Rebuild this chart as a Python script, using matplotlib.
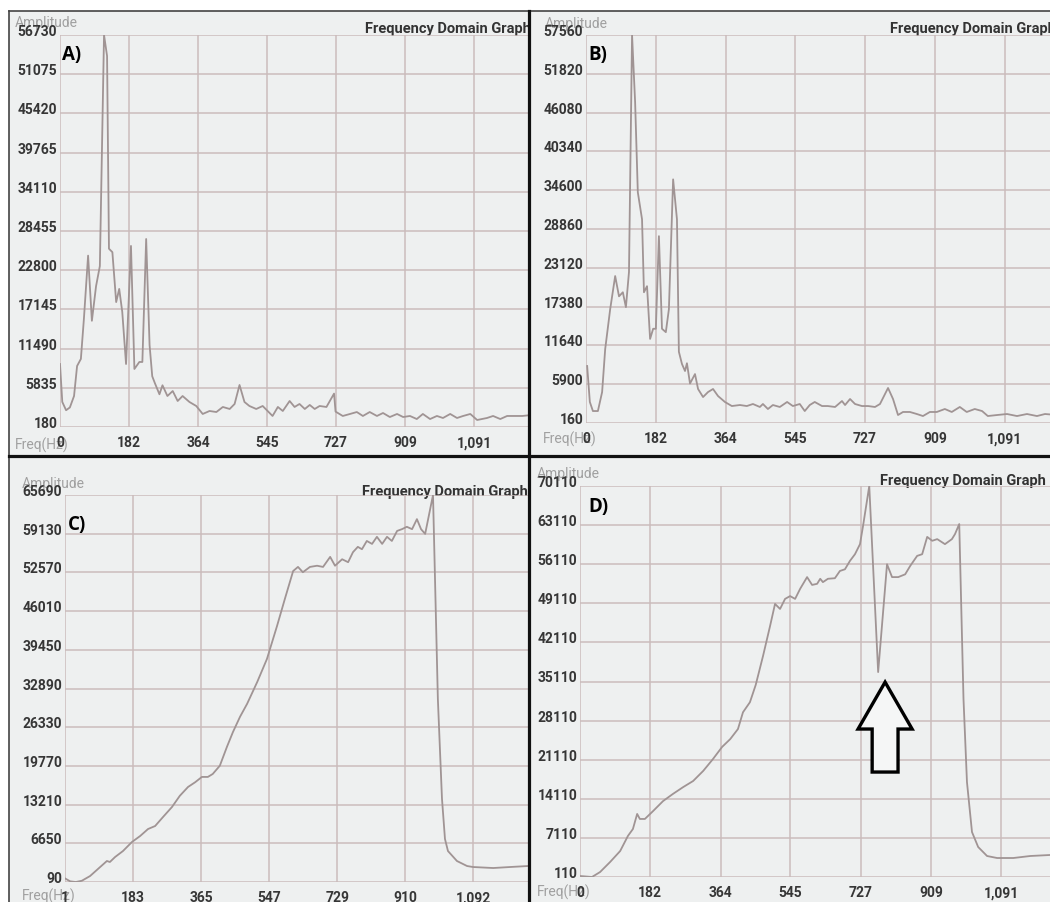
import matplotlib
matplotlib.use("Agg")
import matplotlib.pyplot as plt
from matplotlib.patches import FancyArrow
from matplotlib.lines import Line2D

# spectra read from the four screens (frequency in Hz, amplitude)
freq_a = [0, 6, 16, 26, 37, 45, 55, 63, 74, 84, 95, 105, 116, 124, 129, 138, 148, 156,
          164, 174, 187, 196, 209, 217, 227, 236, 243, 250, 262, 270, 283, 297, 310, 323,
          341, 359, 376, 394, 412, 429, 447, 460, 473, 486, 499, 517, 534, 547, 560, 574,
          587, 605, 618, 631, 645, 658, 671, 684, 702, 722, 726, 745, 764, 782, 798, 816,
          835, 851, 869, 888, 904, 922, 940, 956, 975, 993, 1009, 1028, 1046, 1062, 1081,
          1099, 1125, 1141, 1160, 1178, 1199, 1218, 1240]
amp_a = [9270, 3800, 2600, 3000, 4650, 8980, 10000, 15800, 24900, 15500, 20500, 23400,
         56730, 53700, 25900, 25400, 18200, 20100, 16800, 9270, 26300, 8550, 9560, 9560,
         27300, 12000, 7500, 6500, 4900, 6200, 4650, 5370, 3930, 4650, 3790, 3210, 2060,
         2490, 2340, 3070, 2780, 3500, 6240, 3790, 3210, 2780, 3210, 2490, 1770, 3070, 2490,
         3930, 3070, 3500, 2780, 3360, 2780, 3210, 3070, 5000, 2400, 1770, 2060, 2340, 1770,
         2340, 1770, 2200, 1620, 2060, 1620, 1770, 1330, 2060, 1330, 1770, 1480, 2060, 1480,
         1770, 2060, 1190, 1480, 1770, 1330, 1770, 1770, 1770, 1900]

freq_b = [3, 10, 18, 31, 42, 50, 63, 76, 86, 96, 104, 112, 120, 128, 135, 146, 151, 159,
          167, 175, 182, 190, 198, 208, 216, 227, 237, 242, 250, 258, 263, 271, 284, 292,
          305, 318, 331, 344, 362, 380, 401, 419, 435, 453, 461, 474, 487, 505, 524, 539,
          557, 570, 583, 596, 615, 630, 649, 667, 675, 688, 701, 719, 735, 753, 766, 787,
          800, 813, 826, 844, 862, 878, 896, 914, 935, 953, 974, 992, 1013, 1032, 1047,
          1071, 1097, 1123, 1149, 1175, 1196, 1215]
amp_b = [8590, 3270, 1930, 1930, 4740, 11100, 17000, 21900, 18900, 19500, 17300, 22500,
         57560, 47600, 34300, 30300, 19500, 20400, 12600, 14100, 14100, 27800, 14100, 13600,
         17000, 36200, 30300, 10700, 8900, 7850, 9000, 6000, 7400, 5190, 4000, 4740, 5190,
         4150, 3270, 2670, 2820, 2670, 2970, 2530, 2970, 2230, 2820, 2530, 3270, 2670, 2970,
         1930, 2820, 3270, 2670, 2670, 2530, 3410, 2820, 3710, 2970, 2670, 2670, 2530, 2970,
         5340, 3710, 1340, 1790, 1790, 1490, 1190, 1790, 1790, 2230, 1790, 2530, 1790, 2230,
         1930, 1190, 1340, 1490, 1190, 1490, 1190, 1490, 1400]

freq_c = [1, 15, 30, 46, 68, 95, 113, 121, 135, 156, 180, 202, 223, 242, 263, 287, 308,
          330, 349, 367, 383, 396, 415, 434, 450, 469, 488, 515, 541, 568, 589, 611, 624,
          637, 656, 675, 691, 710, 723, 742, 758, 771, 784, 795, 808, 822, 835, 849, 862,
          875, 889, 902, 915, 929, 942, 953, 964, 972, 985, 998, 1009, 1017, 1025, 1049,
          1076, 1092, 1146, 1191, 1239]
amp_c = [700, 200, 90, 300, 1100, 2630, 3650, 3480, 4330, 5340, 6870, 7890, 9070, 9580,
         11100, 12800, 14700, 16200, 17000, 17900, 17900, 18400, 19800, 23000, 25500, 28100,
         30300, 34000, 37900, 43500, 48100, 52800, 53500, 52600, 53500, 53700, 53500, 55200,
         53700, 54800, 54300, 56000, 56900, 56500, 57900, 57400, 58600, 57400, 58600, 57900,
         59600, 59900, 60300, 59900, 61600, 59900, 59100, 61600, 65690, 31100, 14200, 7380,
         5340, 3650, 2800, 2630, 2460, 2630, 2800]

freq_d = [0, 31, 52, 78, 104, 124, 137, 148, 155, 168, 189, 215, 241, 267, 293, 319, 344,
          368, 389, 409, 422, 440, 455, 474, 492, 505, 518, 531, 544, 557, 570, 588, 601,
          614, 622, 629, 642, 660, 673, 686, 699, 712, 725, 733, 749, 772, 795, 808, 824,
          842, 855, 873, 886, 899, 912, 925, 945, 963, 971, 982, 993, 1002, 1015, 1031,
          1054, 1080, 1122, 1166, 1217]
amp_d = [290, 110, 1000, 2800, 4760, 7450, 8700, 11400, 10500, 10500, 11900, 13700, 15000,
         16200, 17300, 19100, 21200, 23400, 24800, 26600, 29600, 31400, 34500, 39700, 45000,
         49000, 48100, 49900, 50400, 49900, 51700, 53800, 52400, 52600, 53500, 52900, 53500,
         53600, 54900, 55200, 56700, 57900, 59700, 63000, 70110, 36800, 56100, 53800, 53800,
         54300, 55800, 57600, 57900, 61000, 60300, 60600, 59700, 60600, 61500, 63300, 32000,
         17100, 8160, 5480, 3870, 3510, 3510, 3870, 4050]

yticks_a = [180, 5835, 11490, 17145, 22800, 28455, 34110, 39765, 45420, 51075, 56730]
yticks_b = [160, 5900, 11640, 17380, 23120, 28860, 34600, 40340, 46080, 51820, 57560]
yticks_c = [90, 6650, 13210, 19770, 26330, 32890, 39450, 46010, 52570, 59130, 65690]
yticks_d = [110, 7110, 14110, 21110, 28110, 35110, 42110, 49110, 56110, 63110, 70110]

xticks_0 = [0, 182, 364, 545, 727, 909, 1091]
xlabels_0 = ["0", "182", "364", "545", "727", "909", "1,091"]
xticks_1 = [1, 183, 365, 547, 729, 910, 1092]
xlabels_1 = ["1", "183", "365", "547", "729", "910", "1,092"]

W, H = 1050, 903
BG = "#eef0f0"
GRID = "#cbbcbc"
LINE = "#a09494"
TXT = "#363636"
LIGHT = "#a0a0a0"
TICKFONT = "Roboto"

fig = plt.figure(figsize=(W / 100, H / 100), dpi=100, facecolor="white")


def frac(x0, y0, x1, y1):
    return [x0 / W, 1 - y1 / H, (x1 - x0) / W, (y1 - y0) / H]


def panel(pbox, abox, freq, amp, yticks, xticks, xlabels, xlim, tag, tag_xy,
          title_xy, amp_xy, freq_xy):
    # backdrop in pixel units so the captions clip at the screen edge
    bg = fig.add_axes(frac(*pbox))
    bg.set_xlim(pbox[0], pbox[2])
    bg.set_ylim(pbox[3], pbox[1])
    bg.set_facecolor(BG)
    for s in bg.spines.values():
        s.set_visible(False)
    bg.tick_params(left=False, bottom=False, labelleft=False, labelbottom=False)
    bg.text(*amp_xy, "Amplitude", color=LIGHT, fontsize=10, family=TICKFONT,
            va="center", ha="left", clip_on=True)
    bg.text(*freq_xy, "Freq(Hz)", color=LIGHT, fontsize=10, family=TICKFONT,
            va="center", ha="left", clip_on=True)
    bg.text(*title_xy, "Frequency Domain Graph", color="#333333", fontsize=10.5,
            family=TICKFONT, weight="bold", va="center", ha="left", clip_on=True)
    bg.text(*tag_xy, tag, color="black", fontsize=13.5, family="Open Sans",
            weight="bold", va="center", ha="left", clip_on=True, zorder=5)

    ax = fig.add_axes(frac(*abox))
    ax.set_facecolor("none")
    ax.plot(freq, amp, color=LINE, lw=1.3)
    ax.set_xlim(*xlim)
    ax.set_ylim(yticks[0], yticks[-1])
    ax.set_yticks(yticks, [str(v) for v in yticks], va="baseline")
    ax.set_xticks(xticks, xlabels)
    ax.grid(color=GRID, lw=1.1)
    ax.set_axisbelow(True)
    for s in ax.spines.values():
        s.set_visible(False)
    ax.tick_params(length=0, labelsize=10, labelcolor=TXT)
    ax.tick_params(axis="y", pad=2)
    ax.tick_params(axis="x", pad=6)
    for lab in ax.get_xticklabels() + ax.get_yticklabels():
        lab.set_family(TICKFONT)
        lab.set_weight("bold")
    return ax


panel((9, 12, 529, 457), (60, 36, 528, 428), freq_a, amp_a, yticks_a,
      xticks_0, xlabels_0, (0, 1233), "A)", (62, 55), (365, 29), (15, 23), (15, 445))
panel((529, 12, 1050, 457), (586, 36, 1050, 424), freq_b, amp_b, yticks_b,
      xticks_0, xlabels_0, (0, 1209), "B)", (588, 55), (890, 29), (545, 24), (543, 439))
panel((9, 457, 529, 903), (65, 496, 528, 883), freq_c, amp_c, yticks_c,
      xticks_1, xlabels_1, (1, 1239), "C)", (68, 525), (362, 492), (22, 484), (22, 896))
ax_d = panel((529, 457, 1050, 903), (580, 487, 1050, 878), freq_d, amp_d, yticks_d,
             xticks_0, xlabels_0, (0, 1217), "D)", (588, 507), (880, 481), (537, 474),
             (537, 892))

# hollow arrow pointing at the notch in D
dip = amp_d.index(min(amp_d[40:50]))
tip_f, tip_a = freq_d[dip] + 18, amp_d[dip] - 1800
ax_d.add_patch(FancyArrow(tip_f, tip_a - 16100, 0, 16100, width=67, head_width=140,
                          head_length=8400, length_includes_head=True,
                          facecolor="#f5f6f6", edgecolor="black", lw=2.4, zorder=4))

# screen borders
fig.add_artist(Line2D([9 / W, 1], [1 - 12 / H] * 2, color="#444444", lw=1.2))
fig.add_artist(Line2D([9 / W] * 2, [0, 1 - 12 / H], color="#444444", lw=1.2))
fig.add_artist(Line2D([529 / W] * 2, [0, 1 - 12 / H], color="#111111", lw=2.3))
fig.add_artist(Line2D([9 / W, 1], [1 - 457 / H] * 2, color="#111111", lw=2.3))

fig.savefig("out.png", dpi=100, facecolor="white")
